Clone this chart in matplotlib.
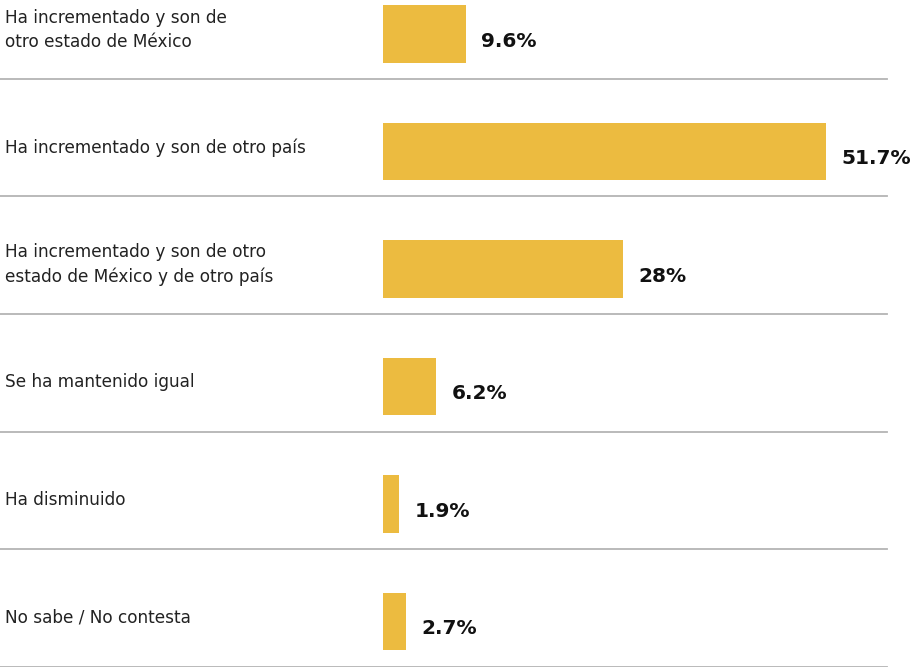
import matplotlib.pyplot as plt

plt.rcParams['font.family'] = ['DejaVu Sans']

etiquetas = ['Ha incrementado y son de\notro estado de México',
             'Ha incrementado y son de otro país',
             'Ha incrementado y son de otro\nestado de México y de otro país',
             'Se ha mantenido igual',
             'Ha disminuido',
             'No sabe / No contesta']
valores = [9.6, 51.7, 28, 6.2, 1.9, 2.7]
textos = ['9.6%', '51.7%', '28%', '6.2%', '1.9%', '2.7%']

amarillo = '#ECBB40'
gris = '#b4b4b4'

fig = plt.figure(figsize=(9.19, 6.67), dpi=100)
ax = fig.add_axes([0, 0, 1, 1])
ax.set_xlim(-44.7, 62.5)
ax.set_ylim(5.387, -0.289)
ax.axis('off')

pos = list(range(len(valores)))
ax.barh(pos, valores, height=0.49, color=amarillo, left=0)

for i in pos:
    # texto de la categoria a la izquierda
    ax.text(-44.1, i - 0.035, etiquetas[i], ha='left', va='center',
            fontsize=12.2, color='#222222', linespacing=1.45)
    # valor en negritas junto a la barra
    ax.text(valores[i] + 1.8, i + 0.06, textos[i], ha='left', va='center',
            fontsize=14.5, fontweight='bold', color='#111111')
    # linea separadora
    ax.plot([-44.7, 58.8], [i + 0.383, i + 0.383], color=gris, lw=1.3)

fig.savefig('out.png', dpi=100)
